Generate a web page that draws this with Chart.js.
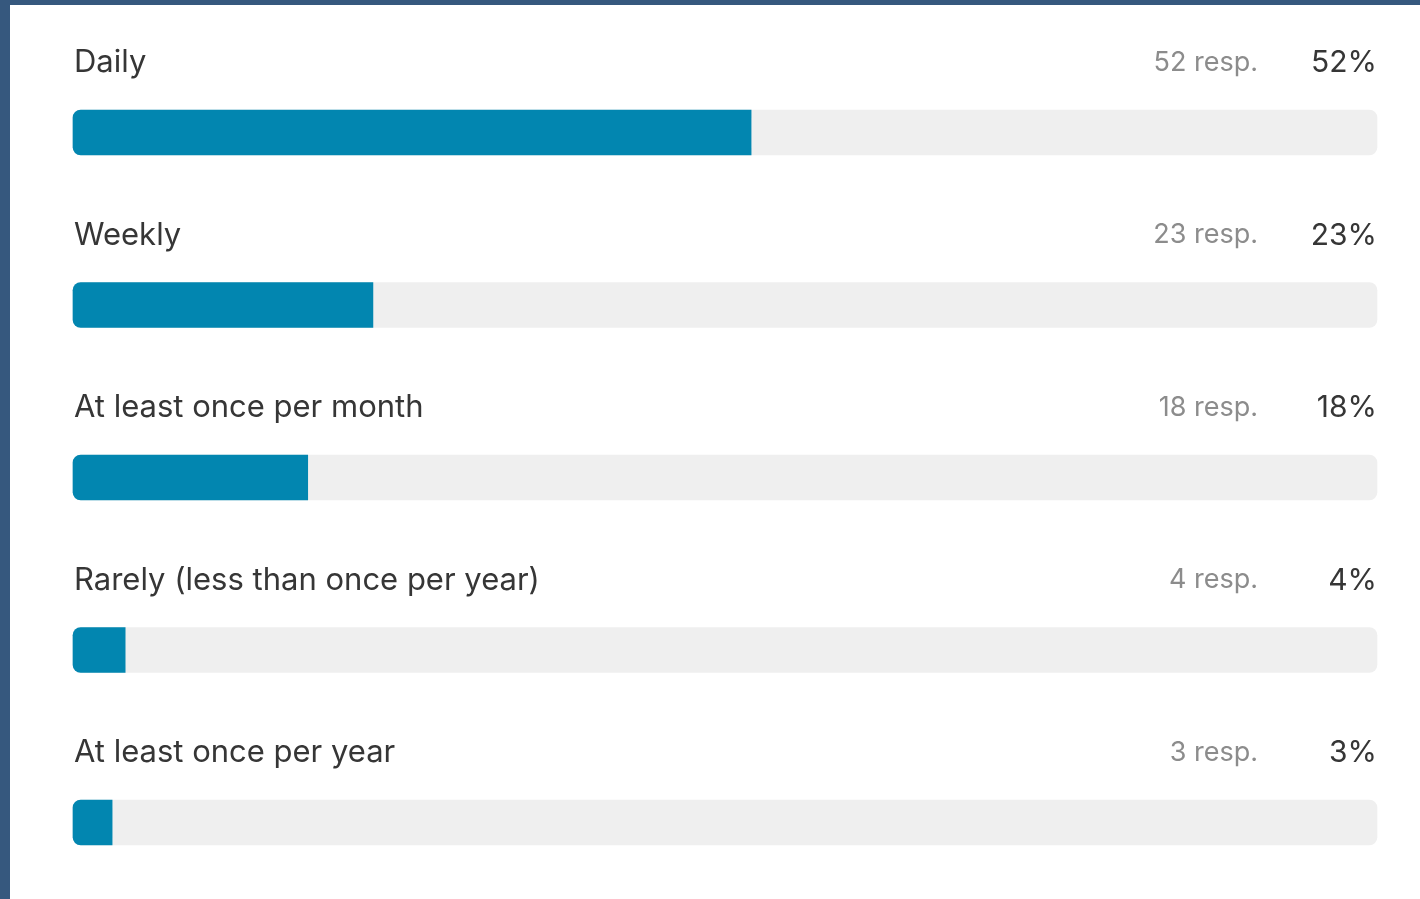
<!DOCTYPE html>
<html>
<head>
<meta charset="utf-8">
<script src="https://cdn.jsdelivr.net/npm/chart.js@4/dist/chart.umd.min.js"></script>
<style>
  html, body { margin: 0; padding: 0; width: 1420px; height: 899px; overflow: hidden; background: #36587e; }
  #card { position: absolute; left: 10px; top: 5px; width: 1410px; height: 894px; background: #ffffff; }
  #wrap { position: absolute; left: 0; top: 0; width: 1420px; height: 899px; }
</style>
</head>
<body>
<div id="card"></div>
<div id="wrap"><canvas id="c" width="1420" height="899"></canvas></div>
<script>
const categories = ["Daily", "Weekly", "At least once per month", "Rarely (less than once per year)", "At least once per year"];
const percents = [52, 23, 18, 4, 3];
const responses = [52, 23, 18, 4, 3];
const trackValues = [100, 100, 100, 100, 100];

const BLUE = "#0286b0";
const TRACK = "#efefef";
const FONT = "Inter, 'Noto Sans', Roboto, sans-serif";

const labelPlugin = {
  id: "rowLabels",
  afterDatasetsDraw(chart) {
    const ctx = chart.ctx;
    const meta = chart.getDatasetMeta(1);
    const area = chart.chartArea;
    ctx.save();
    ctx.textBaseline = "alphabetic";
    meta.data.forEach((bar, i) => {
      const y = bar.y - 60.5;
      ctx.font = "400 31px " + FONT;
      ctx.fillStyle = "#363636";
      ctx.textAlign = "left";
      ctx.fillText(categories[i], area.left + 1, y);
      ctx.font = "400 27px " + FONT;
      ctx.fillStyle = "#8c8c8c";
      ctx.textAlign = "right";
      ctx.fillText(responses[i] + " resp.", area.right - 119, y - 1.5);
      ctx.font = "400 30px " + FONT;
      ctx.fillStyle = "#363636";
      ctx.fillText(percents[i] + "%", area.right, y);
    });
    ctx.restore();
  }
};

new Chart(document.getElementById("c"), {
  type: "bar",
  data: {
    labels: categories,
    datasets: [
      {
        label: "Share",
        data: percents,
        backgroundColor: BLUE,
        borderSkipped: false,
        borderRadius: { topLeft: 8, bottomLeft: 8, topRight: 0, bottomRight: 0 },
        barThickness: 45,
        grouped: false,
        order: 0,
        clip: false
      },
      {
        label: "Track",
        data: trackValues,
        backgroundColor: TRACK,
        borderSkipped: false,
        borderRadius: 8,
        barThickness: 45,
        grouped: false,
        order: 1,
        clip: false
      }
    ]
  },
  options: {
    indexAxis: "y",
    responsive: false,
    animation: false,
    layout: { padding: { left: 73, right: 43, top: 132.5, bottom: 76.5 } },
    plugins: { legend: { display: false }, tooltip: { enabled: false } },
    scales: {
      x: { display: false, min: 0, max: 100 },
      y: { display: false, offset: false }
    }
  },
  plugins: [labelPlugin]
});
</script>
</body>
</html>
